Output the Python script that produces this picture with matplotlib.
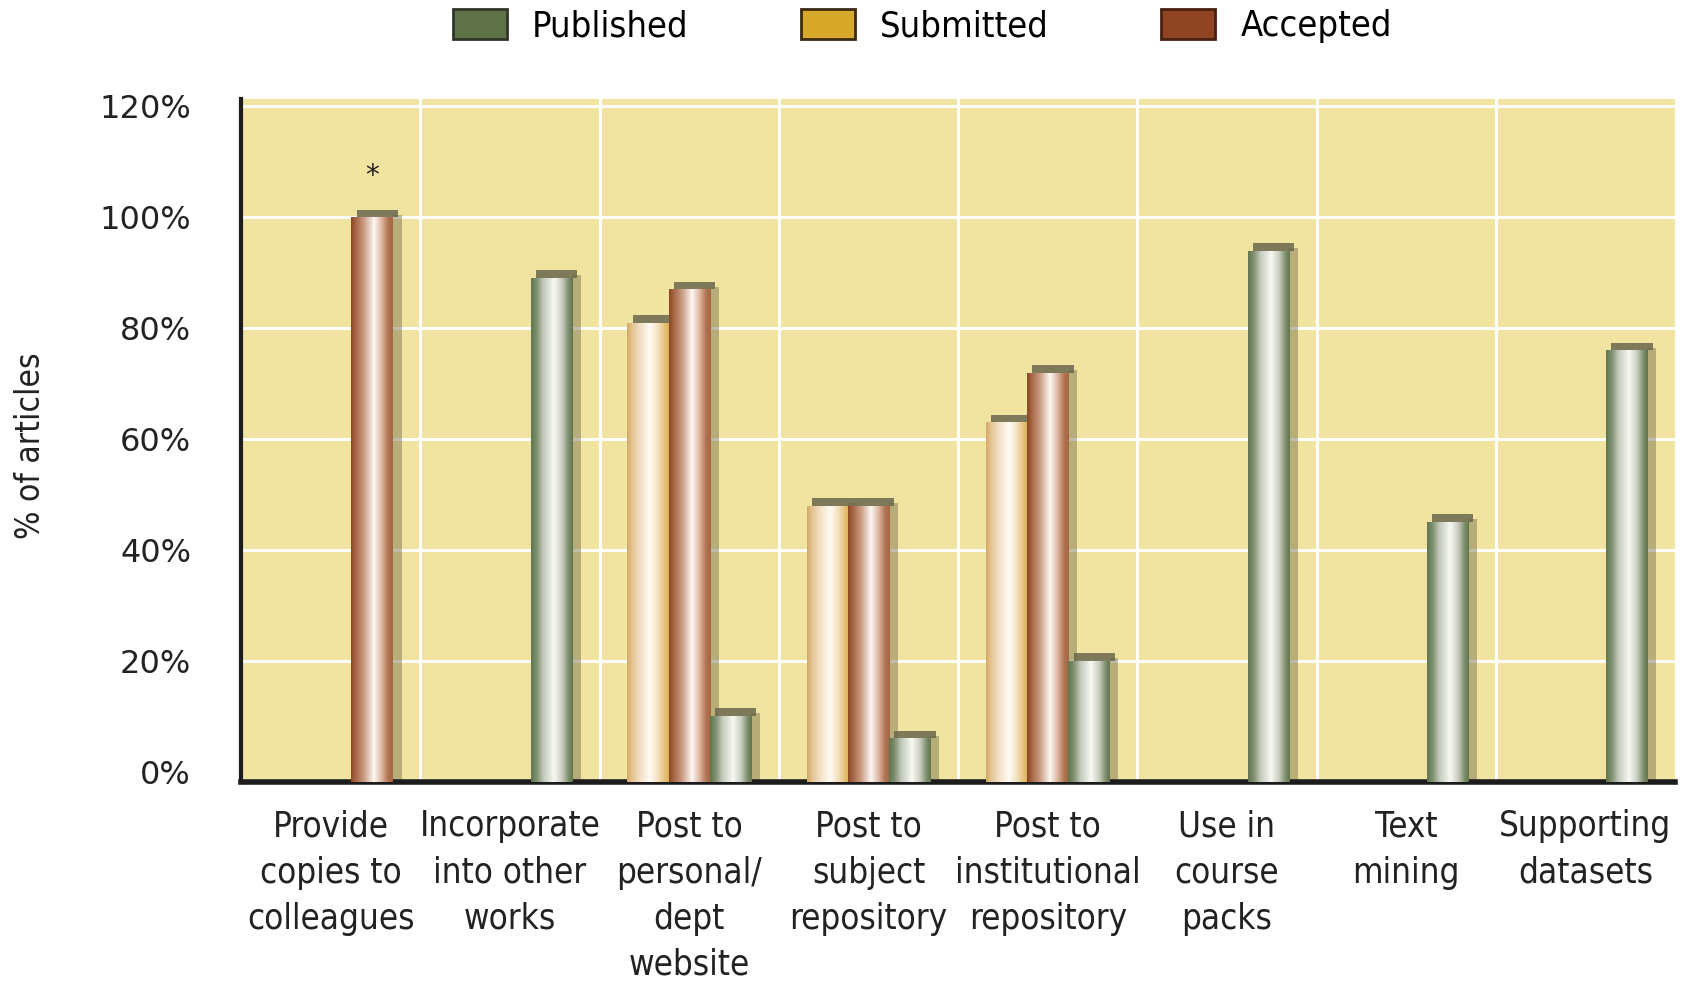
import numpy as np
import matplotlib
matplotlib.use("Agg")
import matplotlib.pyplot as plt
from matplotlib.colors import LinearSegmentedColormap
from matplotlib.patches import Patch, Rectangle
from matplotlib.font_manager import FontProperties

# data
categories = ["Provide\ncopies to\ncolleagues", "Incorporate\ninto other\nworks",
              "Post to\npersonal/\ndept\nwebsite", "Post to\nsubject\nrepository",
              "Post to\ninstitutional\nrepository", "Use in\ncourse\npacks",
              "Text\nmining", "Supporting\ndatasets"]
submitted = [None, None, 0.81, 0.48, 0.63, None, None, None]
accepted = [1.00, None, 0.87, 0.48, 0.72, None, None, None]
published = [None, 0.89, 0.10, 0.06, 0.20, 0.94, 0.45, 0.76]
yticks = [0, 0.2, 0.4, 0.6, 0.8, 1.0, 1.2]
ytick_labels = ["0%", "20%", "40%", "60%", "80%", "100%", "120%"]

narrow = FontProperties(family="DejaVu Sans", stretch="condensed")
bg = "#f1e4a1"
floor = -0.018
width = 0.23

grads = {
    "submitted": ["#d6aa68", "#e4c595", "#f2dfc4", "#fffbf4", "#f3e1bd", "#e6c17c", "#ddb352"],
    "accepted": ["#8d4923", "#a9694a", "#c99a80", "#fdf8f4", "#d9b09a", "#b07252", "#a3683f"],
    "published": ["#607650", "#7c8e6c", "#c4cbbc", "#f8f9f4", "#c8cdbf", "#7f9070", "#62764d"],
}
stops = [0, 0.12, 0.3, 0.55, 0.75, 0.9, 1.0]


def gradient_bars(ax, xs, vals, key):
    cmap = LinearSegmentedColormap.from_list(key, list(zip(stops, grads[key])))
    grad = np.linspace(0, 1, 64).reshape(1, -1)
    for x, v in zip(xs, vals):
        if v is None:
            continue
        bar = ax.bar(x, v - floor, width, bottom=floor, color="none", zorder=3)[0]
        x0, x1 = bar.get_x(), bar.get_x() + bar.get_width()
        # soft shadow on the right and dark cap on top
        ax.add_patch(Rectangle((x1, floor), 0.05, v - floor + 0.005, color="#6f6a48",
                               alpha=0.45, lw=0, zorder=2))
        ax.add_patch(Rectangle((x0 + 0.03, v), width, 0.014, color="#6a664c",
                               alpha=0.85, lw=0, zorder=2))
        im = ax.imshow(grad, cmap=cmap, extent=[x0, x1, floor, v], aspect="auto",
                       zorder=3, interpolation="bilinear")
        im.set_clip_path(bar)


fig = plt.figure(figsize=(16.86, 9.82), dpi=100)
ax = fig.add_axes([0.143, 0.204, 0.8505, 0.695])
ax.set_facecolor(bg)

x = np.arange(len(categories))
# first category's bar sits in the right-hand slot
acc_x = [i + (width if i == 0 else 0) for i in x]
gradient_bars(ax, x - width, submitted, "submitted")
gradient_bars(ax, acc_x, accepted, "accepted")
gradient_bars(ax, x + width, published, "published")

ax.text(acc_x[0], accepted[0] + 0.075, "*", ha="center", va="center", fontsize=20,
        color="#222222")

for yv in yticks[1:]:
    ax.axhline(yv, color="white", lw=2.2, zorder=1)
for b in np.arange(0.5, len(categories) - 0.5):
    ax.axvline(b, color="white", lw=2.2, zorder=1)

ax.set_xlim(-0.5, len(categories) - 0.5)
ax.set_ylim(floor, 1.213)
ax.set_yticks(yticks)
ax.set_yticklabels(ytick_labels, fontsize=23, color="#222222")
ax.set_xticks(x)
ax.set_xticklabels(categories, color="#222222", linespacing=1.45)
for t in ax.get_xticklabels():
    t.set_fontproperties(narrow)
    t.set_fontsize(25)
ax.tick_params(axis="y", length=0, pad=36)
ax.tick_params(axis="x", length=0, pad=20)

for s in ["top", "right"]:
    ax.spines[s].set_visible(False)
ax.spines["left"].set_linewidth(3)
ax.spines["left"].set_color("#1c1c1c")
ax.spines["bottom"].set_linewidth(4)
ax.spines["bottom"].set_color("#1c1c1c")

fig.text(0.018, 0.546, "% of articles", rotation=90, ha="center", va="center",
         fontproperties=narrow, fontsize=24, color="#222222")

handles = [Patch(facecolor="#5f7248", edgecolor="#2f3628", lw=2),
           Patch(facecolor="#d6a92a", edgecolor="#3a2a10", lw=2),
           Patch(facecolor="#8f4522", edgecolor="#4a2010", lw=2)]
legprop = FontProperties(family="DejaVu Sans", stretch="condensed", size=26)
fig.legend(handles, ["Published", "Submitted", "Accepted"], loc="upper center",
           bbox_to_anchor=(0.547, 1.024), ncol=3, frameon=False,
           prop=legprop, handlelength=1.5, handleheight=0.9,
           handletextpad=0.7, columnspacing=3.1)

fig.savefig("out.png", dpi=100, facecolor="white")
